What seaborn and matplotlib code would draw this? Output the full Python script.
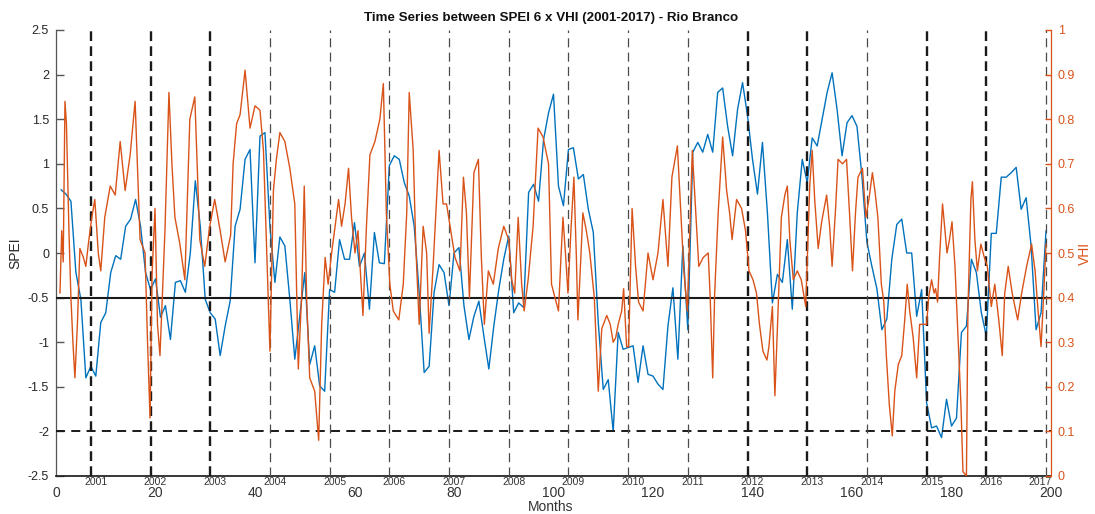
import numpy as np
import pandas as pd
import matplotlib
matplotlib.use("Agg")
import matplotlib.pyplot as plt
import matplotlib.transforms as mtransforms
import seaborn as sns

# ---- data -------------------------------------------------------------
# SPEI-6, one value per month (month 1 .. 199)
spei_month = list(range(1, 200))
spei = [
    0.71, 0.66, 0.58, -0.22, -0.52, -1.40, -1.27, -1.38, -0.78, -0.67,
    -0.22, -0.03, -0.07, 0.30, 0.38, 0.60, 0.30, -0.22, -0.41, -0.29,
    -0.72, -0.59, -0.97, -0.33, -0.31, -0.44, 0.00, 0.81, 0.30, -0.52,
    -0.67, -0.74, -1.15, -0.82, -0.54, 0.30, 0.49, 1.05, 1.16, -0.11,
    1.31, 1.35, 0.30, -0.33, 0.18, 0.08, -0.52, -1.19, -0.71, -0.22,
    -1.25, -1.04, -1.49, -1.55, -0.41, -0.44, 0.15, -0.07, -0.07, 0.34,
    -0.15, 0.00, -0.63, 0.23, -0.11, -0.12, 0.98, 1.09, 1.05, 0.79,
    0.64, 0.30, -0.44, -1.34, -1.27, -0.44, -0.13, -0.22, -0.59, 0.00,
    0.06, -0.59, -0.97, -0.71, -0.54, -0.93, -1.30, -0.82, -0.41, -0.07,
    0.19, -0.67, -0.56, -0.61, 0.68, 0.77, 0.58, 1.27, 1.57, 1.78,
    0.75, 0.53, 1.16, 1.18, 0.83, 0.88, 0.49, 0.23, -0.78, -1.53,
    -1.42, -2.00, -0.89, -1.08, -1.06, -1.04, -1.45, -1.04, -1.36, -1.38,
    -1.47, -1.53, -0.82, -0.39, -1.19, 0.08, -0.86, 1.13, 1.24, 1.13,
    1.33, 1.13, 1.80, 1.85, 1.42, 1.09, 1.61, 1.91, 1.54, 1.05,
    0.66, 1.24, 0.45, -0.56, -0.24, -0.33, 0.15, -0.63, 0.45, 1.05,
    0.79, 1.29, 1.20, 1.50, 1.80, 2.02, 1.61, 1.09, 1.46, 1.54,
    1.42, 0.86, 0.12, -0.15, -0.40, -0.86, -0.74, -0.07, 0.32, 0.38,
    0.00, 0.00, -0.71, -0.41, -1.68, -1.96, -1.94, -2.07, -1.64, -1.94,
    -1.85, -0.89, -0.82, -0.07, -0.22, -0.67, -0.93, 0.22, 0.22, 0.85,
    0.85, 0.90, 0.96, 0.49, 0.62, 0.08, -0.86, -0.67, 0.25,
]

# VHI composites (finer than monthly), time in months
vhi_month = [
    0.8, 1.15, 1.45, 1.8, 2.1, 2.6, 3.0, 3.4, 3.8, 4.3, 4.8, 5.5, 6.0, 6.5,
    7.2, 7.8, 8.5, 9.0, 9.8, 10.9, 11.9, 12.9, 13.9, 14.9, 15.9, 16.9, 17.9,
    18.4, 18.9, 19.3, 19.9, 20.4, 20.9, 21.9, 22.7, 23.3, 23.9, 24.9, 25.9,
    26.9, 27.9, 28.9, 29.9, 30.9, 31.9, 33.0, 34.0, 35.1, 35.6, 36.3, 37.0,
    38.0, 39.0, 40.0, 41.0, 41.7, 42.3, 43.0, 43.7, 44.3, 45.0, 46.0, 47.0,
    48.0, 48.7, 49.4, 49.9, 50.4, 51.0, 52.0, 52.8, 53.4, 54.1, 54.7, 55.4,
    56.1, 56.8, 57.4, 58.1, 58.8, 59.4, 60.1, 60.7, 61.7, 62.4, 63.1, 64.1,
    65.1, 65.8, 66.4, 67.1, 67.8, 68.9, 69.8, 70.5, 71.0, 71.8, 72.3, 73.0,
    73.8, 74.5, 75.0, 75.8, 77.0, 77.8, 78.5, 79.2, 80.2, 81.2, 81.9, 82.5,
    83.1, 84.0, 84.9, 85.5, 86.1, 86.9, 87.9, 88.9, 90.0, 91.0, 91.6, 92.2,
    92.9, 93.6, 94.1, 94.9, 95.9, 96.9, 97.9, 99.0, 99.6, 100.3, 101.0,
    101.5, 101.9, 102.4, 102.9, 103.5, 104.1, 104.6, 104.9, 105.5, 105.9,
    106.6, 107.3, 108.2, 109.0, 109.7, 110.7, 111.4, 112.0, 112.5, 113.0,
    113.7, 114.1, 114.7, 115.1, 115.8, 116.5, 117.1, 118.0, 119.0, 120.0,
    121.0, 122.0, 123.0, 123.8, 124.9, 125.6, 126.2, 126.9, 127.9, 128.6,
    129.2, 130.1, 131.1, 131.5, 132.0, 132.4, 133.1, 134.0, 134.8, 135.4,
    135.9, 136.8, 137.8, 138.6, 139.3, 140.1, 140.8, 141.4, 142.1, 142.9,
    143.3, 144.0, 144.5, 145.1, 145.8, 146.5, 147.0, 147.5, 148.2, 149.0,
    149.8, 150.7, 151.5, 152.0, 152.5, 153.2, 153.9, 154.9, 155.5, 156.0,
    156.7, 157.2, 158.1, 158.9, 159.5, 160.1, 160.7, 161.2, 162.1, 162.8,
    163.4, 164.1, 164.6, 165.2, 165.9, 166.4, 166.9, 167.5, 168.1, 168.6,
    169.3, 170.0, 170.6, 171.1, 171.6, 172.3, 173.0, 173.6, 174.3, 175.0,
    175.4, 176.0, 176.5, 176.8, 177.2, 177.6, 178.2, 178.6, 179.1, 179.6,
    180.1, 180.7, 181.2, 181.9, 182.3, 183.0, 183.3, 183.9, 184.2, 184.7,
    185.2, 185.9, 186.6, 187.2, 188.0, 188.7, 189.5, 190.2, 190.7, 191.4,
    192.2, 193.3, 194.1, 195.1, 196.1, 196.8, 197.4, 198.0, 198.5, 199.0,
]
vhi = [
    0.41, 0.55, 0.48, 0.84, 0.79, 0.55, 0.40, 0.30, 0.22, 0.34, 0.51, 0.49, 0.47, 0.52,
    0.58, 0.62, 0.50, 0.46, 0.58, 0.65, 0.63, 0.75, 0.64, 0.72, 0.84, 0.53, 0.50,
    0.30, 0.13, 0.45, 0.60, 0.34, 0.27, 0.55, 0.86, 0.70, 0.58, 0.52, 0.44,
    0.80, 0.85, 0.53, 0.47, 0.56, 0.62, 0.55, 0.48, 0.54, 0.70, 0.79, 0.81,
    0.91, 0.78, 0.83, 0.82, 0.73, 0.52, 0.28, 0.64, 0.71, 0.77, 0.75, 0.69,
    0.61, 0.24, 0.41, 0.65, 0.39, 0.22, 0.19, 0.08, 0.34, 0.49, 0.43, 0.50,
    0.56, 0.62, 0.56, 0.61, 0.69, 0.58, 0.50, 0.55, 0.36, 0.56, 0.72, 0.75,
    0.80, 0.88, 0.59, 0.43, 0.37, 0.35, 0.43, 0.59, 0.86, 0.73, 0.52, 0.34,
    0.56, 0.50, 0.32, 0.47, 0.73, 0.61, 0.61, 0.56, 0.49, 0.46, 0.67, 0.59,
    0.40, 0.68, 0.71, 0.49, 0.34, 0.46, 0.43, 0.51, 0.56, 0.53, 0.44, 0.41,
    0.58, 0.43, 0.37, 0.44, 0.56, 0.78, 0.76, 0.70, 0.43, 0.40, 0.37,
    0.49, 0.58, 0.50, 0.41, 0.55, 0.67, 0.49, 0.35, 0.49, 0.59,
    0.55, 0.50, 0.40, 0.19, 0.33, 0.36, 0.34, 0.30, 0.31, 0.34,
    0.37, 0.42, 0.29, 0.29, 0.60, 0.47, 0.39, 0.37, 0.50, 0.44,
    0.50, 0.62, 0.47, 0.67, 0.74, 0.59, 0.46, 0.37, 0.73, 0.59,
    0.47, 0.49, 0.50, 0.40, 0.22, 0.41, 0.59, 0.76, 0.64, 0.59,
    0.53, 0.62, 0.60, 0.55, 0.46, 0.44, 0.41, 0.34, 0.28, 0.26,
    0.29, 0.38, 0.18, 0.36, 0.58, 0.63, 0.65, 0.53, 0.44, 0.46,
    0.44, 0.38, 0.65, 0.73, 0.62, 0.51, 0.57, 0.63, 0.56, 0.47,
    0.60, 0.71, 0.70, 0.71, 0.59, 0.46, 0.59, 0.67, 0.69, 0.58,
    0.62, 0.68, 0.64, 0.58, 0.43, 0.39, 0.27, 0.16, 0.09, 0.19,
    0.25, 0.27, 0.35, 0.43, 0.37, 0.31, 0.22, 0.34, 0.34, 0.34,
    0.40, 0.44, 0.41, 0.42, 0.39, 0.49, 0.61, 0.56, 0.50, 0.53,
    0.57, 0.47, 0.34, 0.16, 0.01, 0.00, 0.37, 0.62, 0.66, 0.53,
    0.46, 0.52, 0.49, 0.47, 0.38, 0.43, 0.35, 0.27, 0.41, 0.47,
    0.41, 0.35, 0.41, 0.47, 0.52, 0.46, 0.37, 0.29, 0.40, 0.52,
]

# Hydrological years and the month at which each one starts
years = list(range(2001, 2018))
year_start = [7 + 12 * i for i in range(len(years))]
strong_years = [2001, 2002, 2003, 2012, 2013, 2015, 2016]

spei_threshold = -0.5
spei_extreme = -2.0

# ---- style ------------------------------------------------------------
sns.set_style("white")
plt.rcParams["font.family"] = ["Liberation Sans", "DejaVu Sans"]
plt.rcParams["lines.scale_dashes"] = False

BLUE = "#0072BD"
ORANGE = "#D95319"
DARK = "#262626"

fig = plt.figure(figsize=(10.95, 5.14), dpi=100)
ax = fig.add_axes([56 / 1095, 1 - 476 / 514, 995 / 1095, 446 / 514])
ax2 = ax.twinx()

spei_df = pd.DataFrame({"month": spei_month, "spei": spei})
vhi_df = pd.DataFrame({"month": vhi_month, "vhi": vhi})

sns.lineplot(data=spei_df, x="month", y="spei", ax=ax, color=BLUE,
             linewidth=1.0, estimator=None, sort=False, zorder=2)
sns.lineplot(data=vhi_df, x="month", y="vhi", ax=ax2, color=ORANGE,
             linewidth=1.0, estimator=None, sort=False, zorder=2)

ax.set_xlim(0, 200)
ax.set_ylim(-2.5, 2.5)
ax2.set_ylim(0, 1)

# reference lines
ax.axhline(spei_threshold, color="#1a1a1a", linewidth=1.5, zorder=3)
ax.axhline(spei_extreme, color="#1a1a1a", linewidth=1.4,
           linestyle=(0, (6.5, 4.5)), zorder=3)
for yr, m in zip(years, year_start):
    if yr in strong_years:
        ax.axvline(m, color="#1a1a1a", linewidth=1.7,
                   linestyle=(0, (7, 3.8)), zorder=3)
    else:
        ax.axvline(m, color="#4a4a4a", linewidth=0.9,
                   linestyle=(0, (6.5, 3.8)), zorder=3)

# axes cosmetics
for s in ("top", "right"):
    ax.spines[s].set_visible(False)
for s in ("top", "left", "bottom"):
    ax2.spines[s].set_visible(False)
ax.spines["left"].set_color("#555555")
ax.spines["left"].set_linewidth(0.9)
ax.spines["bottom"].set_color(DARK)
ax.spines["bottom"].set_linewidth(1.3)
ax2.spines["right"].set_color(ORANGE)
ax2.spines["right"].set_linewidth(0.9)

ax.set_xticks(range(0, 201, 20))
ax.set_xticklabels([str(v) for v in range(0, 201, 20)])
ax.set_yticks(np.arange(-2.5, 2.51, 0.5))
ax.set_yticklabels([f"{v:g}" for v in np.arange(-2.5, 2.51, 0.5)])
ax2.set_yticks(np.arange(0, 1.01, 0.1))
ax2.set_yticklabels([f"{v:g}" for v in np.round(np.arange(0, 1.01, 0.1), 1)])

ax.tick_params(axis="x", direction="in", length=6, width=1.0, color=DARK,
               labelsize=10, labelcolor="#333333", pad=7)
ax.tick_params(axis="y", direction="in", length=6, width=1.0, color="#555555",
               labelsize=9, labelcolor=DARK, pad=5)
ax2.tick_params(axis="y", direction="in", length=4, width=1.0, color=ORANGE,
                labelsize=9, labelcolor=ORANGE, pad=5)

# year labels just under the axis line
trans = mtransforms.blended_transform_factory(ax.transData, ax.transAxes)
for yr, m in zip(years, year_start):
    ax.text(min(m + 1, 197.8), -0.013, str(yr), transform=trans,
            ha="center", va="center", fontsize=7.5, color="#333333")

ax.set_xlabel("")
ax.set_ylabel("")
ax2.set_ylabel("")
ax.text(0.497, -0.07, "Months", transform=ax.transAxes, ha="center",
        va="center", fontsize=10, color="#333333")
ax.text(-0.041, 0.5, "SPEI", transform=ax.transAxes, ha="center",
        va="center", rotation=90, fontsize=10, color=DARK)
ax.text(1.034, 0.5, "VHI", transform=ax.transAxes, ha="center",
        va="center", rotation=90, fontsize=10, color=ORANGE)
ax.text(0.4975, 1.027, "Time Series between SPEI 6 x VHI (2001-2017) - Rio Branco",
        transform=ax.transAxes, ha="center", va="center", fontsize=9.6,
        fontweight="bold", color="#111111")

fig.savefig("out.png", dpi=100)
